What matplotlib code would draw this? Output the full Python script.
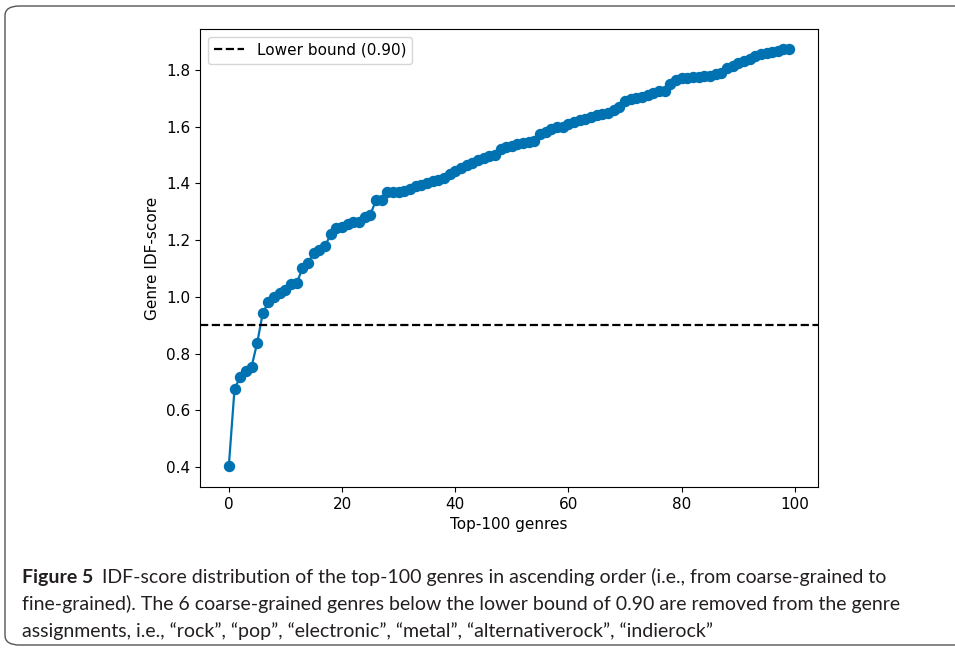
import matplotlib
matplotlib.use("Agg")
import matplotlib.pyplot as plt
from matplotlib.patches import FancyBboxPatch
import numpy as np

plt.rcParams["font.family"] = ["DejaVu Sans"]

# IDF scores of the top-100 genres, ascending
idf_scores = [
    0.405, 0.675, 0.717, 0.739, 0.753, 0.837, 0.943, 0.982, 1.000, 1.014,
    1.024, 1.045, 1.049, 1.100, 1.120, 1.155, 1.165, 1.180, 1.220, 1.243,
    1.246, 1.257, 1.264, 1.264, 1.280, 1.290, 1.340, 1.340, 1.370, 1.370,
    1.370, 1.373, 1.380, 1.390, 1.395, 1.400, 1.408, 1.410, 1.420, 1.433,
    1.444, 1.455, 1.465, 1.472, 1.483, 1.490, 1.497, 1.500, 1.520, 1.527,
    1.532, 1.540, 1.543, 1.546, 1.550, 1.575, 1.582, 1.590, 1.597, 1.600,
    1.608, 1.615, 1.622, 1.628, 1.635, 1.642, 1.645, 1.647, 1.657, 1.670,
    1.690, 1.698, 1.700, 1.704, 1.712, 1.720, 1.725, 1.727, 1.750, 1.764,
    1.770, 1.773, 1.775, 1.776, 1.778, 1.780, 1.785, 1.790, 1.805, 1.815,
    1.825, 1.832, 1.840, 1.848, 1.855, 1.860, 1.863, 1.868, 1.872, 1.872,
]
lower_bound = 0.90
caption_lines = [
    "IDF-score distribution of the top-100 genres in ascending order (i.e., from coarse-grained to",
    "fine-grained). The 6 coarse-grained genres below the lower bound of 0.90 are removed from the genre",
    "assignments, i.e., \u201crock\u201d, \u201cpop\u201d, \u201celectronic\u201d, \u201cmetal\u201d, \u201calternativerock\u201d, \u201cindierock\u201d",
]

W, H = 955, 651
fig = plt.figure(figsize=(W / 100, H / 100), dpi=100)

# rounded frame around figure + caption (right side runs off the page)
frame = FancyBboxPatch((5 / W, 6 / H), 1.1, (H - 12) / H,
                       boxstyle="round,pad=0,rounding_size=0.015",
                       transform=fig.transFigure, fill=False,
                       edgecolor="#555555", linewidth=1.0, clip_on=False)
fig.patches.append(frame)

ax = fig.add_axes([200 / W, 1 - 487 / H, 618 / W, 458 / H])
x = np.arange(len(idf_scores))
ax.plot(x, idf_scores, "-o", color="#0072B2", markersize=7.2, linewidth=1.6)
ax.axhline(lower_bound, color="black", linestyle="--", linewidth=1.6,
           label="Lower bound (0.90)")
ax.set_xlim(-5.1, 104.1)
ax.set_ylim(0.3295, 1.944)
ax.set_xticks([0, 20, 40, 60, 80, 100])
ax.set_yticks([0.4, 0.6, 0.8, 1.0, 1.2, 1.4, 1.6, 1.8])
ax.tick_params(labelsize=11)
ax.set_xlabel("Top-100 genres", fontsize=11)
ax.set_ylabel("Genre IDF-score", fontsize=11)
ax.legend(loc="upper left", fontsize=11)

# caption
cap_font = ["Lato", "Noto Sans", "DejaVu Sans"]
fig.canvas.draw()
renderer = fig.canvas.get_renderer()
y0 = 1 - 577 / H
lead = fig.text(22 / W, y0, "Figure 5", fontsize=14, fontweight="bold",
                family=cap_font, color="#231f20", va="center")
bb = lead.get_window_extent(renderer)
fig.text((bb.x1 + 9) / W, y0, caption_lines[0], fontsize=14,
         family=cap_font, color="#231f20", va="center")
for i, line in enumerate(caption_lines[1:]):
    fig.text(22 / W, 1 - (604 + 27 * i) / H, line, fontsize=14,
             family=cap_font, color="#231f20", va="center")

fig.savefig("out.png", dpi=100)
